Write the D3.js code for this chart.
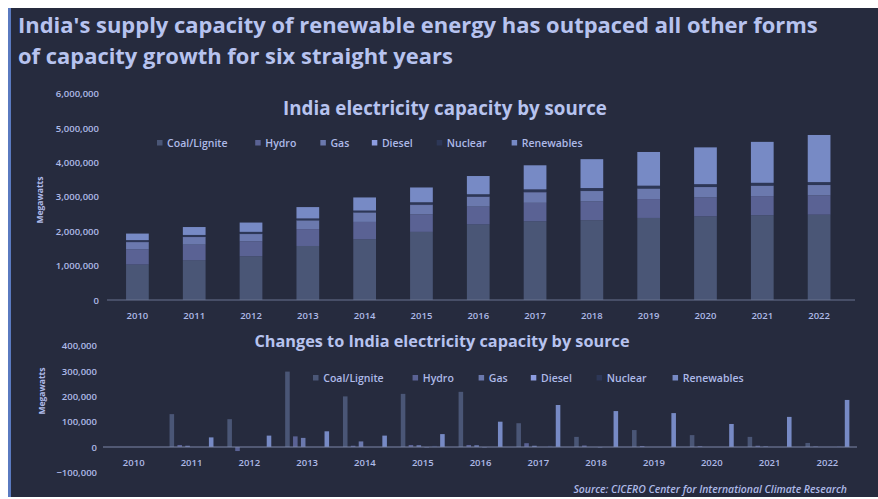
<!DOCTYPE html>
<html><head><meta charset="utf-8">
<script src="https://cdn.jsdelivr.net/npm/d3@7"></script>
<style>
html,body{margin:0;padding:0;background:#ffffff;}
svg{display:block;font-family:"Open Sans","Noto Sans",sans-serif;}
</style></head><body>
<svg id="c" width="878" height="499"></svg>
<script>
// ---------- data ----------
const years = ["2010","2011","2012","2013","2014","2015","2016","2017","2018","2019","2020","2021","2022"];
const seriesNames = ["Coal/Lignite","Hydro","Gas","Diesel","Nuclear","Renewables"];

// Capacity (MW, summed) by source
const coal       = [1030000,1160000,1270000,1570000,1770000,1980000,2195000,2285000,2320000,2385000,2430000,2465000,2480000];
const hydro      = [440000,450000,435000,490000,500000,510000,520000,540000,545000,550000,550000,555000,560000];
const gas        = [200000,210000,205000,240000,260000,270000,280000,300000,300000,300000,300000,300000,300000];
const diesel     = [14000,14000,14000,14000,14000,12000,10000,10000,8000,7000,6000,6000,6000];
const nuclear    = [57000,57000,57000,57000,57000,69000,69000,81000,81000,81000,81000,81000,81000];
const renewables = [190000,230000,270000,330000,380000,430000,530000,700000,840000,980000,1070000,1190000,1370000];

// Year-over-year changes (MW)
const coalChange       = [0,130000,110000,298000,200000,210000,218000,94000,40000,67000,47000,40000,16000];
const hydroChange      = [0,8000,-16000,42000,5000,8000,8000,15000,6000,4000,3000,5000,2000];
const gasChange        = [0,5000,0,36000,22000,7000,7000,5000,0,0,0,2000,0];
const dieselChange     = [0,0,0,0,0,-1000,-1000,0,-1000,0,0,0,0];
const nuclearChange    = [0,0,0,0,0,5000,0,5000,0,0,0,0,3000];
const renewablesChange = [0,38000,45000,62000,45000,51000,100000,166000,142000,134000,91000,119000,186000];

const topTicks = [0,1000000,2000000,3000000,4000000,5000000,6000000];
const bottomTicks = [-100000,0,100000,200000,300000,400000];

const mainTitle1 = "India's supply capacity of renewable energy has outpaced all other forms";
const mainTitle2 = "of capacity growth for six straight years";
const topTitle = "India electricity capacity by source";
const bottomTitle = "Changes to India electricity capacity by source";
const yLabel = "Megawatts";
const sourceText = "Source: CICERO Center for International Climate Research";

// ---------- styling ----------
const colors = ["#4a5676","#5a6294","#6b79ae","#8d9de0","#2d3757","#778ac5"];
const bg = "#262b3e";
const txt = "#aebae8";
const titleCol = "#b7c3ef";

const svg = d3.select("#c");
svg.append("rect").attr("x",8).attr("y",8).attr("width",870).attr("height",489).attr("fill",bg);
svg.append("rect").attr("x",8).attr("y",8).attr("width",3).attr("height",489).attr("fill","#5a7ac0");

function fit(sel, w){
  const n = sel.node();
  const cur = n.getComputedTextLength();
  const fs = parseFloat(sel.attr("font-size"));
  sel.attr("font-size", (fs*w/cur).toFixed(2));
  return sel;
}

// main title
fit(svg.append("text").attr("x",18).attr("y",33).attr("font-size",21).attr("font-weight",700)
  .attr("fill",titleCol).text(mainTitle1), 800);
fit(svg.append("text").attr("x",18).attr("y",64).attr("font-size",21).attr("font-weight",700)
  .attr("fill",titleCol).text(mainTitle2), 435);

// ---------- top chart ----------
const xTop = d3.scaleBand().domain(years).range([109,847.5]).paddingInner(0.6).paddingOuter(0.3);
const yTop = d3.scaleLinear().domain([0,6000000]).range([300,93.6]);

const dataRows = years.map((y,i)=>({year:y,"Coal/Lignite":coal[i],"Hydro":hydro[i],"Gas":gas[i],"Diesel":diesel[i],"Nuclear":nuclear[i],"Renewables":renewables[i]}));
const stack = d3.stack().keys(seriesNames)(dataRows);

const gTop = svg.append("g");
gTop.selectAll("g.s").data(stack).join("g").attr("fill",(d,i)=>colors[i])
  .selectAll("rect").data(d=>d).join("rect")
  .attr("x",d=>xTop(d.data.year)).attr("width",xTop.bandwidth())
  .attr("y",d=>yTop(d[1])).attr("height",d=>Math.max(0,yTop(d[0])-yTop(d[1])));

// top axes
svg.append("line").attr("x1",107).attr("x2",855).attr("y1",yTop(0)).attr("y2",yTop(0))
  .attr("stroke","#69728f").attr("stroke-width",1);
const axTopY = svg.append("g").attr("transform","translate(99,0)")
  .call(d3.axisLeft(yTop).tickValues(topTicks).tickSize(0).tickPadding(0).tickFormat(d3.format(",")));
axTopY.select(".domain").remove();
axTopY.selectAll("text").attr("fill",txt).attr("font-size",9.5).attr("font-weight",600).attr("font-family","Open Sans");
const axTopX = svg.append("g").attr("transform",`translate(0,${yTop(0)})`)
  .call(d3.axisBottom(xTop).tickSize(0).tickPadding(12));
axTopX.select(".domain").remove();
axTopX.selectAll("text").attr("fill",txt).attr("font-size",9.5).attr("font-weight",600).attr("font-family","Open Sans");

fit(svg.append("text").attr("x",445).attr("y",115).attr("text-anchor","middle").attr("font-size",17)
  .attr("font-weight",700).attr("fill",titleCol).text(topTitle), 324);

svg.append("text").attr("transform","translate(43,200) rotate(-90)").attr("text-anchor","middle")
  .attr("font-size",8.5).attr("font-weight",700).attr("fill",txt).text(yLabel);

// legend helper
function legend(cx, cy, targetW){
  const g = svg.append("g");
  let x = 0;
  seriesNames.forEach((name,i)=>{
    g.append("rect").attr("x",x).attr("y",cy-3).attr("width",5.5).attr("height",5.5).attr("fill",colors[i]);
    const t = g.append("text").attr("x",x+9).attr("y",cy+3.8).attr("font-size",10.5).attr("font-weight",600)
      .attr("fill",txt).text(name);
    x += 9 + t.node().getComputedTextLength() + 18;
  });
  const total = x - 18;
  const s = targetW/total;
  g.attr("transform",`translate(${cx - targetW/2},0)`);
  // rescale horizontally by shifting items
  g.selectAll("rect").attr("x",function(){return +d3.select(this).attr("x")*s;});
  g.selectAll("text").attr("x",function(){return +d3.select(this).attr("x")*s;});
}
legend(373.5,143,433);

// ---------- bottom chart ----------
const x0 = d3.scaleBand().domain(years).range([104.8,856.3]).paddingInner(0.24).paddingOuter(0.12);
const x1 = d3.scaleBand().domain(seriesNames).range([0,x0.bandwidth()]).paddingInner(0.42).paddingOuter(0);
const yBot = d3.scaleLinear().domain([-100000,400000]).range([472.3,345.8]);

const changeSeries = [coalChange,hydroChange,gasChange,dieselChange,nuclearChange,renewablesChange];
const changeRows = [];
years.forEach((y,i)=>seriesNames.forEach((s,j)=>changeRows.push({year:y,series:s,idx:j,v:changeSeries[j][i]})));

svg.append("g").selectAll("rect").data(changeRows.filter(d=>d.v!==0)).join("rect")
  .attr("x",d=>x0(d.year)+x1(d.series)).attr("width",x1.bandwidth())
  .attr("y",d=>yBot(Math.max(0,d.v))).attr("height",d=>Math.abs(yBot(d.v)-yBot(0)))
  .attr("fill",d=>colors[d.idx]);

svg.append("line").attr("x1",103).attr("x2",857).attr("y1",yBot(0)).attr("y2",yBot(0))
  .attr("stroke","#7d87a8").attr("stroke-width",1);
const axBotY = svg.append("g").attr("transform","translate(97,0)")
  .call(d3.axisLeft(yBot).tickValues(bottomTicks).tickSize(0).tickPadding(0).tickFormat(d3.format(",")));
axBotY.select(".domain").remove();
axBotY.selectAll("text").attr("fill",txt).attr("font-size",9.5).attr("font-weight",600).attr("font-family","Open Sans");
const axBotX = svg.append("g").attr("transform",`translate(0,${yBot(0)})`)
  .call(d3.axisBottom(x0).tickSize(0).tickPadding(12));
axBotX.select(".domain").remove();
axBotX.selectAll("text").attr("fill",txt).attr("font-size",9.5).attr("font-weight",600).attr("font-family","Open Sans");

fit(svg.append("text").attr("x",442).attr("y",347).attr("text-anchor","middle").attr("font-size",16)
  .attr("font-weight",700).attr("fill",titleCol).text(bottomTitle), 375);

svg.append("text").attr("transform","translate(45,391) rotate(-90)").attr("text-anchor","middle")
  .attr("font-size",8.5).attr("font-weight",700).attr("fill",txt).text(yLabel);

legend(532.5,378,439);

fit(svg.append("text").attr("x",847).attr("y",493).attr("text-anchor","end").attr("font-size",8)
  .attr("font-style","italic").attr("font-weight",600).attr("fill",txt).text(sourceText), 274);
</script>
</body></html>
